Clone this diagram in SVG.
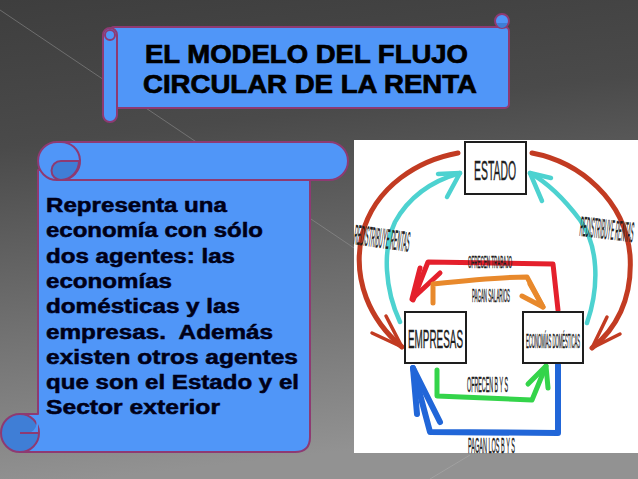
<svg xmlns="http://www.w3.org/2000/svg" width="638" height="479" viewBox="0 0 638 479">
<defs>
<linearGradient id="bg" x1="0" y1="0" x2="0.15" y2="1">
<stop offset="0" stop-color="#3e3e3e"/>
<stop offset="0.3" stop-color="#4a4a4a"/>
<stop offset="1" stop-color="#929292"/>
</linearGradient>
<style>
.scroll{fill:#5096f8;stroke:#8e3a72;stroke-width:2;stroke-linejoin:round}
.dark{fill:#3f7ed6;stroke:#8e3a72;stroke-width:2}
.line{fill:none;stroke:#8e3a72;stroke-width:2}
.title{font-family:"Liberation Sans",Arial,sans-serif;font-weight:bold;font-size:25px;fill:#000;stroke:#000;stroke-width:0.7}
.body{font-family:"Liberation Sans",Arial,sans-serif;font-weight:bold;font-size:19.5px;fill:#000018;stroke:#000018;stroke-width:0.5}
.box{fill:#fff;stroke:#1e1e1e;stroke-width:2}
.lbl{font-family:"Liberation Sans",Arial,sans-serif;fill:#1e1e1e;stroke:#1e1e1e;stroke-width:0.4}
.arr{fill:none;stroke-linecap:round;stroke-linejoin:round}
</style>
</defs>
<rect x="0" y="0" width="638" height="479" fill="url(#bg)"/>
<line x1="0" y1="10" x2="360" y2="252" stroke="#9a9a9a" stroke-width="1" opacity="0.5"/>
<line x1="430" y1="479" x2="470" y2="455" stroke="#b0b0b0" stroke-width="1" opacity="0.5"/>

<g id="title-scroll">
<rect class="scroll" x="110" y="27" width="399" height="81" rx="4"/>
<rect class="scroll" x="103" y="28" width="14" height="94" rx="7"/>
<circle class="line" cx="110" cy="35" r="5" fill="#5096f8"/>
<circle class="scroll" cx="502" cy="21" r="7"/>
<path d="M497,23 A5,5 0 0 0 507,23 Z" fill="#3f7ed6"/>
<text class="title" x="145" y="63" textLength="323" lengthAdjust="spacingAndGlyphs">EL MODELO DEL FLUJO</text>
<text class="title" x="143" y="93" textLength="334" lengthAdjust="spacingAndGlyphs">CIRCULAR DE LA RENTA</text>
</g>

<g id="text-scroll">
<path class="scroll" d="M38,170 H310 V437 Q310,452 295,452 H20 V414 H38 Z"/>
<rect class="scroll" x="38" y="142" width="310" height="38" rx="19"/>
<path class="line" d="M60,142 A19,19 0 0 1 62,180"/>
<path class="dark" d="M79,161 H61 A9.5,9.5 0 0 0 61,180 A19,19 0 0 0 79,161 Z"/>
<circle class="dark" cx="20" cy="433" r="19"/>
<path d="M38,414 H27 A9.5,9.5 0 0 1 27,433 H38 Z" fill="#5096f8"/>
<path class="line" d="M38,414 H20 M20,433 H38"/>
<text class="body" x="46" y="212" textLength="181" lengthAdjust="spacingAndGlyphs">Representa una</text>
<text class="body" x="46" y="237.3" textLength="217" lengthAdjust="spacingAndGlyphs">economía con sólo</text>
<text class="body" x="46" y="262.6" textLength="189" lengthAdjust="spacingAndGlyphs">dos agentes: las</text>
<text class="body" x="46" y="287.9" textLength="126" lengthAdjust="spacingAndGlyphs">economías</text>
<text class="body" x="46" y="313.2" textLength="194" lengthAdjust="spacingAndGlyphs">domésticas y las</text>
<text class="body" x="46" y="338.5" textLength="227" lengthAdjust="spacingAndGlyphs" xml:space="preserve">empresas.  Además</text>
<text class="body" x="46" y="363.8" textLength="252" lengthAdjust="spacingAndGlyphs">existen otros agentes</text>
<text class="body" x="46" y="389.1" textLength="253" lengthAdjust="spacingAndGlyphs">que son el Estado y el</text>
<text class="body" x="46" y="414.4" textLength="174" lengthAdjust="spacingAndGlyphs">Sector exterior</text>
</g>

<rect x="354" y="140" width="284" height="313" fill="#fff"/>

<g id="connectors">
<g class="arr" stroke="#c23b22" stroke-width="5">
<path d="M458,153 C420,160 375,185 362,235 C352,280 370,320 402,347"/>
<polyline points="372,333 402,347 386,316" stroke-width="3.5"/>
<path d="M532,153 C580,162 625,200 630,255 C633,300 615,330 592,348"/>
<polyline points="607,317 592,348 620,334" stroke-width="3.5"/>
</g>
<g class="arr" stroke="#4dd2d0" stroke-width="4.5">
<path d="M400,322 C385,290 382,250 395,222 C410,195 435,180 460,173"/>
<polyline points="438,174 460,173 447,197"/>
<path d="M587,323 C600,285 598,245 580,220 C565,200 548,183 530,173"/>
<polyline points="551,178 530,173 542,201"/>
</g>
<g class="arr" stroke="#e4202c" stroke-width="5">
<path d="M558,310 L553,264 L428,262 L413,300"/>
<polyline points="420,268 412,299 440,273"/>
</g>
<g class="arr" stroke="#e8892c" stroke-width="5">
<path d="M433,303 L433,284 C470,280 500,277 527,277 L543,307"/>
<polyline points="530,284 543,307 522,296"/>
</g>
<g class="arr" stroke="#34d44a" stroke-width="5">
<path d="M437,370 L437,396 L532,400 L546,366"/>
<polyline points="528,384 546,366 548,388"/>
</g>
<g class="arr" stroke="#2166d8" stroke-width="6">
<path d="M558,365 L558,433 L430,432 L413,368"/>
<polyline points="417,414 413,368 440,422"/>
</g>
<text class="lbl" transform="translate(382,238) rotate(8)" y="10" font-size="28" text-anchor="middle" textLength="56" lengthAdjust="spacingAndGlyphs">REDISTRIBUYE RENTAS</text>
<text class="lbl" transform="translate(607,229) rotate(7)" y="10" font-size="28" text-anchor="middle" textLength="54" lengthAdjust="spacingAndGlyphs">REDISTRIBUYE RENTAS</text>
<text class="lbl" x="468" y="268" font-size="17" textLength="44" lengthAdjust="spacingAndGlyphs">OFRECEN TRABAJO</text>
<text class="lbl" x="472" y="302" font-size="18" textLength="38" lengthAdjust="spacingAndGlyphs">PAGAN SALARIOS</text>
<text class="lbl" x="467" y="392" font-size="22" textLength="41" lengthAdjust="spacingAndGlyphs">OFRECEN B Y S</text>
<text class="lbl" x="468" y="453" font-size="22" textLength="47" lengthAdjust="spacingAndGlyphs">PAGAN LOS B Y S</text>
</g>

<g id="estado">
<rect class="box" x="465" y="142" width="61" height="52"/>
<text class="lbl" x="474" y="180" font-size="27" textLength="42" lengthAdjust="spacingAndGlyphs">ESTADO</text>
</g>
<g id="empresas">
<rect class="box" x="405" y="312" width="61" height="51"/>
<text class="lbl" x="408" y="348" font-size="25" textLength="55" lengthAdjust="spacingAndGlyphs">EMPRESAS</text>
</g>
<g id="economias">
<rect class="box" x="523" y="312" width="60" height="51"/>
<text class="lbl" x="526" y="348" font-size="20" textLength="54" lengthAdjust="spacingAndGlyphs">ECONOMÍAS DOMÉSTICAS</text>
</g>
</svg>
